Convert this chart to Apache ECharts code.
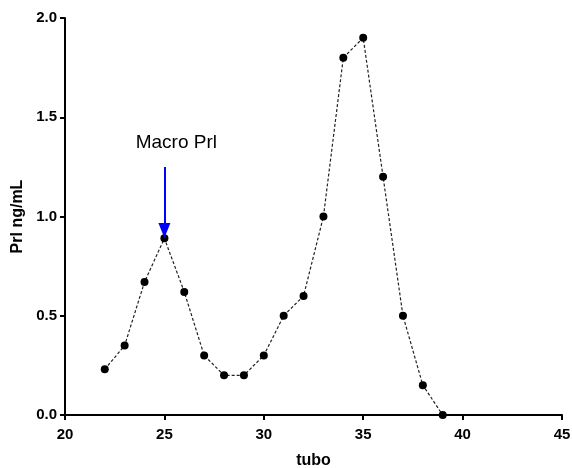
<!DOCTYPE html>
<html><head><meta charset="utf-8">
<script src="https://cdn.jsdelivr.net/npm/echarts@6/dist/echarts.min.js"></script>
<style>html,body{margin:0;padding:0;background:#fff}#c{width:572px;height:468px}</style>
</head><body><div id="c"></div>
<script>
const tubes = [22,23,24,25,26,27,28,29,30,31,32,33,34,35,36,37,38,39];
const prl = [0.23,0.35,0.67,0.89,0.62,0.30,0.20,0.20,0.30,0.50,0.60,1.00,1.80,1.90,1.20,0.50,0.15,0.00];
const annotationText = 'Macro Prl';
const arrowX = 25;
const arrowFromY = 1.25;
const arrowToY = 0.93;
const labelAt = [25.6, 1.37];

const chart = echarts.init(document.getElementById('c'));
const font = 'Liberation Sans, Arial, sans-serif';
chart.setOption({
  animation: false,
  grid: {left: 65, right: 10, top: 18, bottom: 53, containLabel: false, outerBoundsMode: 'none'},
  xAxis: {
    type: 'value', min: 20, max: 45, interval: 5,
    name: 'tubo', nameLocation: 'middle', nameGap: 38,
    nameTextStyle: {fontFamily: font, fontWeight: 'bold', fontSize: 16, color: '#000'},
    axisLine: {lineStyle: {color: '#000', width: 2}},
    axisTick: {lineStyle: {color: '#000', width: 2}, length: 5},
    axisLabel: {fontFamily: font, fontWeight: 'bold', fontSize: 15, color: '#000', margin: 12},
    splitLine: {show: false}
  },
  yAxis: {
    type: 'value', min: 0, max: 2, interval: 0.5,
    name: 'Prl ng/mL', nameLocation: 'middle', nameGap: 39,
    nameTextStyle: {fontFamily: font, fontWeight: 'bold', fontSize: 16, color: '#000'},
    axisLine: {show: true, lineStyle: {color: '#000', width: 2}},
    axisTick: {show: true, lineStyle: {color: '#000', width: 2}, length: 5},
    axisLabel: {fontFamily: font, fontWeight: 'bold', fontSize: 15, color: '#000', margin: 8,
      formatter: v => v.toFixed(1)},
    splitLine: {show: false}
  },
  series: [{
    type: 'line',
    data: tubes.map((t, i) => [t, prl[i]]),
    symbol: 'circle', symbolSize: 8,
    itemStyle: {color: '#000'},
    lineStyle: {color: '#222', width: 1.2, type: [3, 2]},
    markLine: {
      silent: true,
      symbol: ['none', 'triangle'],
      symbolSize: [12, 15],
      symbolRotate: 180,
      lineStyle: {color: '#0000ff', width: 2, type: 'solid'},
      label: {show: false},
      data: [[{coord: [arrowX, arrowFromY]}, {coord: [arrowX, arrowToY]}]]
    },
    markPoint: {
      silent: true,
      symbol: 'circle', symbolSize: 0,
      label: {show: true, position: 'inside', formatter: annotationText,
        fontFamily: font, fontSize: 19, color: '#000'},
      data: [{coord: labelAt}]
    }
  }]
});
</script></body></html>
